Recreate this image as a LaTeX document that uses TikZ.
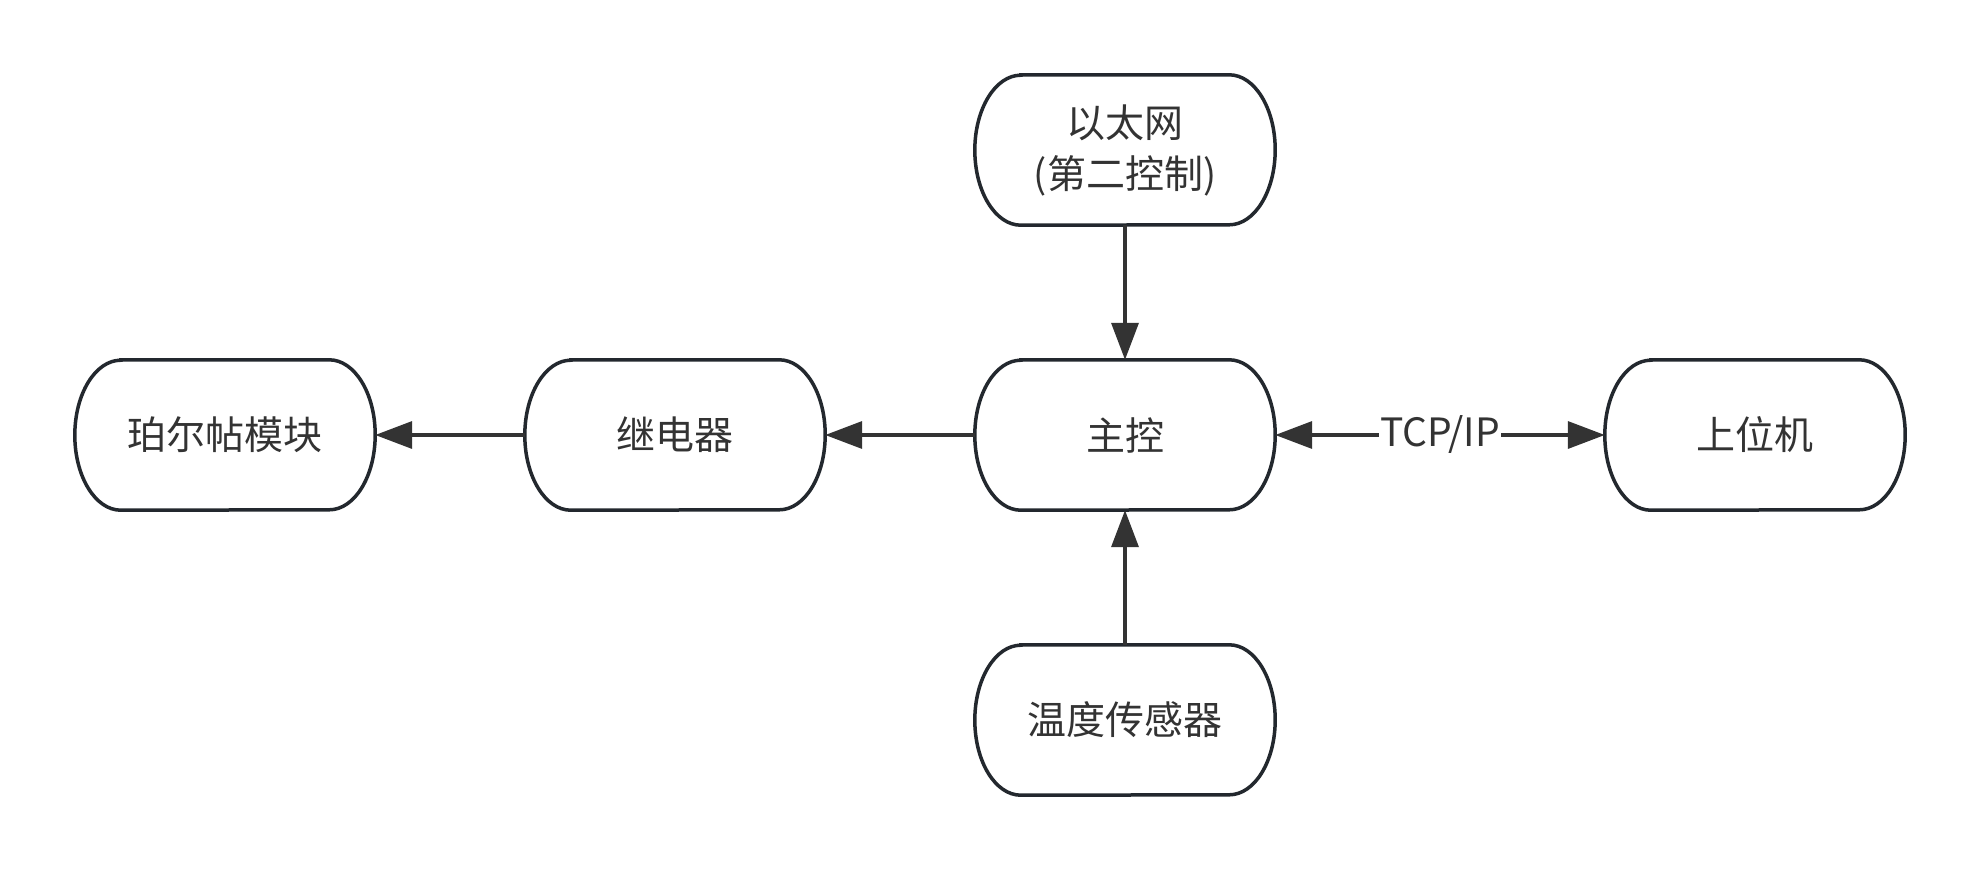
\documentclass[tikz,border=0pt]{standalone}
\usepackage{fontspec}
\setmainfont{Noto Sans CJK SC}
\usetikzlibrary{arrows.meta}
\definecolor{bord}{RGB}{35,40,46}
\definecolor{ink}{RGB}{51,51,51}
\begin{document}
\begin{tikzpicture}[x=1pt,y=-1pt,
  pill/.style={minimum width=300pt,minimum height=150pt,inner sep=0pt,align=center,
    text=ink,font=\fontsize{39}{51}\selectfont},
  conn/.style={line width=3.5pt,draw=ink,-{Triangle[length=37pt,width=27pt]}},
  bconn/.style={line width=3.5pt,draw=ink,{Triangle[length=37pt,width=27pt]}-{Triangle[length=37pt,width=27pt]}},
  outline/.style={line width=3.5pt,draw=bord}]
\useasboundingbox[fill=white] (0,0) rectangle (1980,870);
\node[pill] (eth) at (1125,150) {以太网\\(第二控制)};
\node[pill] (main) at (1125,435) {主控};
\node[pill] (temp) at (1125,720) {温度传感器};
\node[pill] (relay) at (675,435) {继电器};
\node[pill] (peltier) at (225,435) {珀尔帖模块};
\node[pill] (host) at (1755,435) {上位机};
\foreach \n in {eth,main,temp,relay,peltier,host}{
  \draw[outline] ([xshift=46pt]\n.north west) -- ([xshift=-46pt]\n.north east)
    arc[start angle=90,end angle=0,x radius=46pt,y radius=75pt]
    arc[start angle=0,end angle=-90,x radius=46pt,y radius=75pt]
    -- ([xshift=46pt]\n.south west)
    arc[start angle=270,end angle=180,x radius=46pt,y radius=75pt]
    arc[start angle=180,end angle=90,x radius=46pt,y radius=75pt] -- cycle;
}
\draw[conn] (eth) -- (main);
\draw[conn] (temp) -- (main);
\draw[conn] (main) -- (relay);
\draw[conn] (relay) -- (peltier);
\draw[bconn] (main) -- node[fill=white,inner sep=1pt,text=ink,font=\fontsize{39}{44}\selectfont]{TCP/IP} (host);
\end{tikzpicture}
\end{document}
